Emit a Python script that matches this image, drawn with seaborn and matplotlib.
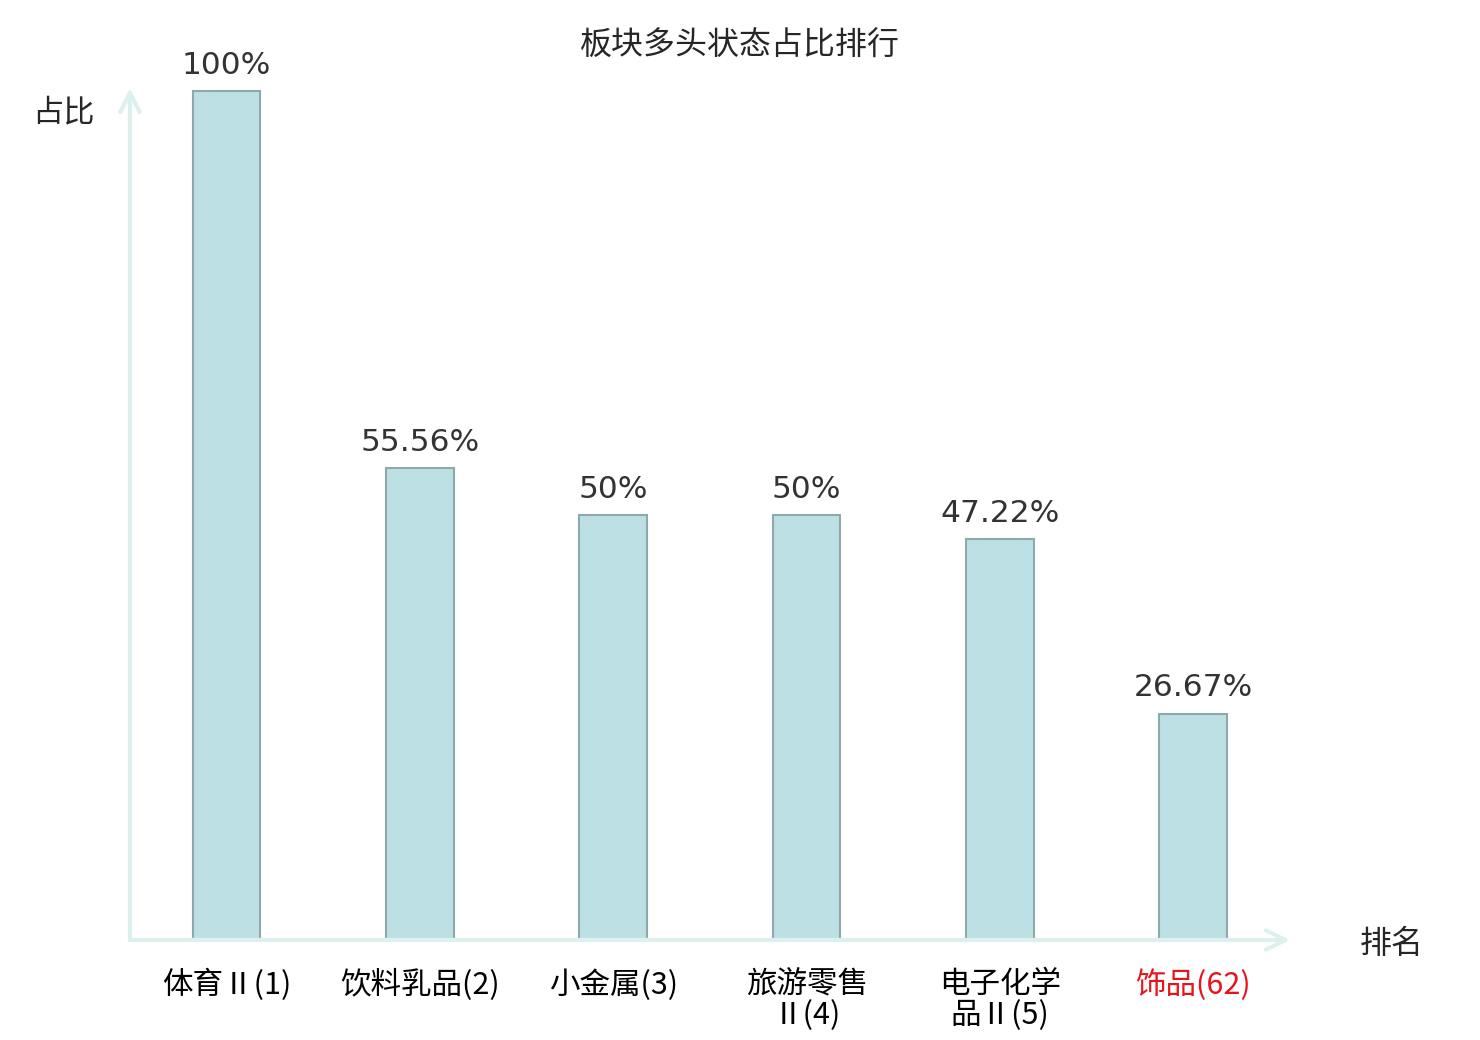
import matplotlib
matplotlib.use("Agg")
import matplotlib.pyplot as plt
import seaborn as sns
import pandas as pd

# --- data ---
sectors = ["体育Ⅱ(1)", "饮料乳品(2)", "小金属(3)", "旅游零售Ⅱ(4)", "电子化学品Ⅱ(5)", "饰品(62)"]
tick_labels = ["体育Ⅱ(1)", "饮料乳品(2)", "小金属(3)", "旅游零售\nⅡ(4)", "电子化学\n品Ⅱ(5)", "饰品(62)"]
ratios = [100, 55.56, 50, 50, 47.22, 26.67]
value_labels = ["100%", "55.56%", "50%", "50%", "47.22%", "26.67%"]
highlight = "饰品(62)"

sns.set_theme(style="white")
plt.rcParams['font.family'] = ['Noto Sans CJK SC', 'DejaVu Sans']

df = pd.DataFrame({"sector": sectors, "ratio": ratios})

fig = plt.figure(figsize=(14.8, 10.4), dpi=100)
ax = fig.add_axes([0.0878, 0.0962, 0.7838, 0.8192])

sns.barplot(data=df, x="sector", y="ratio", order=sectors, color="#bce0e3",
            saturation=1, width=0.35, edgecolor="#8fa9ab", linewidth=1.5, ax=ax)

ax.set_xlim(-0.5, len(sectors) - 0.5)
ax.set_ylim(0, 100.35)
ax.set_yticks([])
ax.set_xlabel("")
ax.set_ylabel("")
for s in ax.spines.values():
    s.set_visible(False)

ax.set_xticks(range(len(sectors)))
ax.set_xticklabels(tick_labels, fontsize=22, linespacing=1.0,
                   family=['Noto Sans CJK SC', 'DejaVu Sans'])
ax.tick_params(axis="x", length=0, pad=21)
for lbl, name in zip(ax.get_xticklabels(), sectors):
    lbl.set_color("#e8141c" if name == highlight else "black")

# value labels on top of bars
ax.bar_label(ax.containers[0], labels=value_labels, padding=8, fontsize=22.5,
             color="#333333", fontfamily="DejaVu Sans")

# axis arrows
axis_color = "#dcf1ee"
arrow = dict(arrowstyle="->", color=axis_color, lw=3, mutation_scale=35,
             shrinkA=0, shrinkB=0)
ax.annotate("", xy=(1, 0), xytext=(0, 0), xycoords="axes fraction", arrowprops=arrow,
            annotation_clip=False)
ax.annotate("", xy=(0, 1), xytext=(0, 0), xycoords="axes fraction", arrowprops=arrow,
            annotation_clip=False)

fig.text(0.5, 0.956, "板块多头状态占比排行", ha="center", va="center", fontsize=23)
fig.text(0.0426, 0.892, "占比", ha="center", va="center", fontsize=22.5)
fig.text(0.9405, 0.092, "排名", ha="center", va="center", fontsize=23)

fig.savefig("out.png", dpi=100)
